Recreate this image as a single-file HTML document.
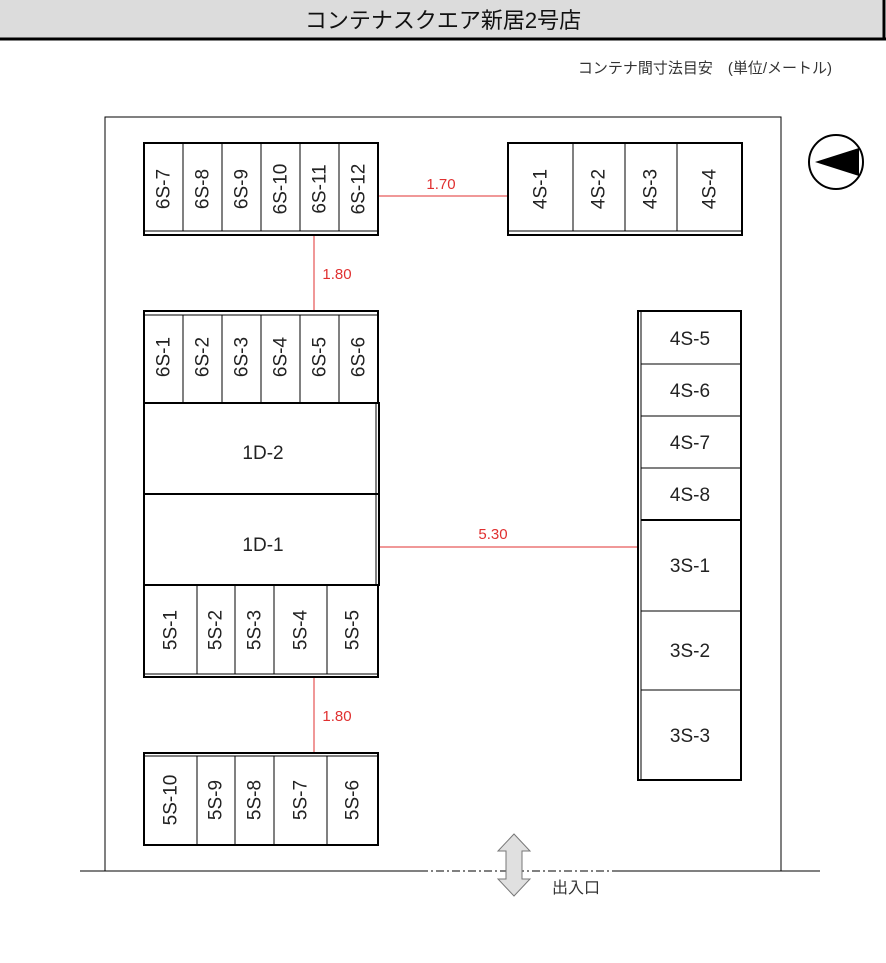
<!DOCTYPE html>
<html><head><meta charset="utf-8"><style>
html,body{margin:0;padding:0;background:#fff;}
svg{display:block;}
text{font-family:"Liberation Sans","Noto Sans CJK JP",sans-serif;fill:#222;}
.r{fill:#e03030;font-size:15px;}
.c{font-size:19px;}
</style></head><body>
<svg width="886" height="963" viewBox="0 0 886 963" xmlns="http://www.w3.org/2000/svg">
<!-- title -->
<rect x="0" y="0" width="885" height="38" fill="#dcdcdc"/>
<line x1="0" y1="39" x2="886" y2="39" stroke="#000" stroke-width="3"/>
<line x1="884" y1="0" x2="884" y2="40" stroke="#000" stroke-width="3"/>
<text x="443" y="28" text-anchor="middle" style="font-size:22px;fill:#111">コンテナスクエア新居2号店</text>
<text x="832" y="73" text-anchor="end" style="font-size:15px;fill:#333">コンテナ間寸法目安　(単位/メートル)</text>

<!-- site -->
<g fill="none" stroke="#000" stroke-width="1">
<polyline points="105,871 105,117 781,117 781,871"/>
<line x1="80" y1="871" x2="420" y2="871"/>
<line x1="420" y1="871" x2="615" y2="871" stroke-dasharray="8,3,2,3"/>
<line x1="615" y1="871" x2="820" y2="871"/>
</g>

<!-- compass -->
<circle cx="836" cy="162" r="27" fill="#fff" stroke="#000" stroke-width="2"/>
<polygon points="815,162 859,148 859,176" fill="#000"/>

<!-- red dims -->
<g stroke="#e03030" stroke-width="1">
<line x1="378" y1="196" x2="508" y2="196"/>
<line x1="314" y1="235" x2="314" y2="311"/>
<line x1="379" y1="547" x2="638" y2="547"/>
<line x1="314" y1="677" x2="314" y2="753"/>
</g>
<text class="r" x="441" y="189" text-anchor="middle">1.70</text>
<text class="r" x="337" y="279" text-anchor="middle">1.80</text>
<text class="r" x="493" y="539" text-anchor="middle">5.30</text>
<text class="r" x="337" y="721" text-anchor="middle">1.80</text>

<g fill="none" stroke="#000">
<!-- top-left 6S-7..12 -->
<rect x="144" y="143" width="234" height="92" stroke-width="2"/>
<line x1="144" y1="231" x2="378" y2="231"/>
<path d="M183,143V231M222,143V231M261,143V231M300,143V231M339,143V231"/>
<!-- 4S-1..4 -->
<rect x="508" y="143" width="234" height="92" stroke-width="2"/>
<line x1="508" y1="231" x2="742" y2="231"/>
<path d="M573,143V231M625,143V231M677,143V231"/>
<!-- 6S-1..6 -->
<rect x="144" y="311" width="234" height="92" stroke-width="2"/>
<line x1="144" y1="315" x2="378" y2="315"/>
<path d="M183,315V403M222,315V403M261,315V403M300,315V403M339,315V403"/>
<!-- 1D -->
<rect x="144" y="403" width="235" height="182" stroke-width="2"/>
<line x1="144" y1="494" x2="379" y2="494" stroke-width="2"/>
<line x1="376" y1="403" x2="376" y2="585"/>
<!-- 5S-1..5 -->
<rect x="144" y="585" width="234" height="92" stroke-width="2"/>
<line x1="144" y1="674" x2="378" y2="674"/>
<path d="M197,585V674M235,585V674M274,585V674M327,585V674"/>
<!-- 5S-6..10 -->
<rect x="144" y="753" width="234" height="92" stroke-width="2"/>
<line x1="144" y1="756" x2="378" y2="756"/>
<path d="M197,756V845M235,756V845M274,756V845M327,756V845"/>
<!-- right column -->
<rect x="638" y="311" width="103" height="469" stroke-width="2"/>
<line x1="641" y1="311" x2="641" y2="780"/>
<path d="M641,364H741M641,416H741M641,468H741M641,611H741M641,690H741"/>
<line x1="641" y1="520" x2="741" y2="520" stroke-width="2"/>
</g>

<g class="c">
<text class="c" transform="translate(164,189) rotate(-90)" text-anchor="middle" dominant-baseline="central">6S-7</text>
<text class="c" transform="translate(203,189) rotate(-90)" text-anchor="middle" dominant-baseline="central">6S-8</text>
<text class="c" transform="translate(242,189) rotate(-90)" text-anchor="middle" dominant-baseline="central">6S-9</text>
<text class="c" transform="translate(281,189) rotate(-90)" text-anchor="middle" dominant-baseline="central">6S-10</text>
<text class="c" transform="translate(320,189) rotate(-90)" text-anchor="middle" dominant-baseline="central">6S-11</text>
<text class="c" transform="translate(359,189) rotate(-90)" text-anchor="middle" dominant-baseline="central">6S-12</text>
<text class="c" transform="translate(541,189) rotate(-90)" text-anchor="middle" dominant-baseline="central">4S-1</text>
<text class="c" transform="translate(599,189) rotate(-90)" text-anchor="middle" dominant-baseline="central">4S-2</text>
<text class="c" transform="translate(651,189) rotate(-90)" text-anchor="middle" dominant-baseline="central">4S-3</text>
<text class="c" transform="translate(710,189) rotate(-90)" text-anchor="middle" dominant-baseline="central">4S-4</text>
<text class="c" transform="translate(164,357) rotate(-90)" text-anchor="middle" dominant-baseline="central">6S-1</text>
<text class="c" transform="translate(203,357) rotate(-90)" text-anchor="middle" dominant-baseline="central">6S-2</text>
<text class="c" transform="translate(242,357) rotate(-90)" text-anchor="middle" dominant-baseline="central">6S-3</text>
<text class="c" transform="translate(281,357) rotate(-90)" text-anchor="middle" dominant-baseline="central">6S-4</text>
<text class="c" transform="translate(320,357) rotate(-90)" text-anchor="middle" dominant-baseline="central">6S-5</text>
<text class="c" transform="translate(359,357) rotate(-90)" text-anchor="middle" dominant-baseline="central">6S-6</text>
<text class="c" x="263" y="459" text-anchor="middle">1D-2</text>
<text class="c" x="263" y="551" text-anchor="middle">1D-1</text>
<text class="c" transform="translate(171,630) rotate(-90)" text-anchor="middle" dominant-baseline="central">5S-1</text>
<text class="c" transform="translate(216,630) rotate(-90)" text-anchor="middle" dominant-baseline="central">5S-2</text>
<text class="c" transform="translate(255,630) rotate(-90)" text-anchor="middle" dominant-baseline="central">5S-3</text>
<text class="c" transform="translate(301,630) rotate(-90)" text-anchor="middle" dominant-baseline="central">5S-4</text>
<text class="c" transform="translate(353,630) rotate(-90)" text-anchor="middle" dominant-baseline="central">5S-5</text>
<text class="c" transform="translate(171,800) rotate(-90)" text-anchor="middle" dominant-baseline="central">5S-10</text>
<text class="c" transform="translate(216,800) rotate(-90)" text-anchor="middle" dominant-baseline="central">5S-9</text>
<text class="c" transform="translate(255,800) rotate(-90)" text-anchor="middle" dominant-baseline="central">5S-8</text>
<text class="c" transform="translate(301,800) rotate(-90)" text-anchor="middle" dominant-baseline="central">5S-7</text>
<text class="c" transform="translate(353,800) rotate(-90)" text-anchor="middle" dominant-baseline="central">5S-6</text>
<text class="c" x="690" y="345" text-anchor="middle">4S-5</text>
<text class="c" x="690" y="397" text-anchor="middle">4S-6</text>
<text class="c" x="690" y="449" text-anchor="middle">4S-7</text>
<text class="c" x="690" y="501" text-anchor="middle">4S-8</text>
<text class="c" x="690" y="572" text-anchor="middle">3S-1</text>
<text class="c" x="690" y="657" text-anchor="middle">3S-2</text>
<text class="c" x="690" y="742" text-anchor="middle">3S-3</text>
</g>

<!-- entrance arrow -->
<polygon points="514,834 530,851 522,851 522,879 530,879 514,896 498,879 506,879 506,851 498,851" fill="#e0e0e0" stroke="#777" stroke-width="1"/>
<text x="552" y="893" style="font-size:16px;fill:#333">出入口</text>
</svg>
</body></html>
